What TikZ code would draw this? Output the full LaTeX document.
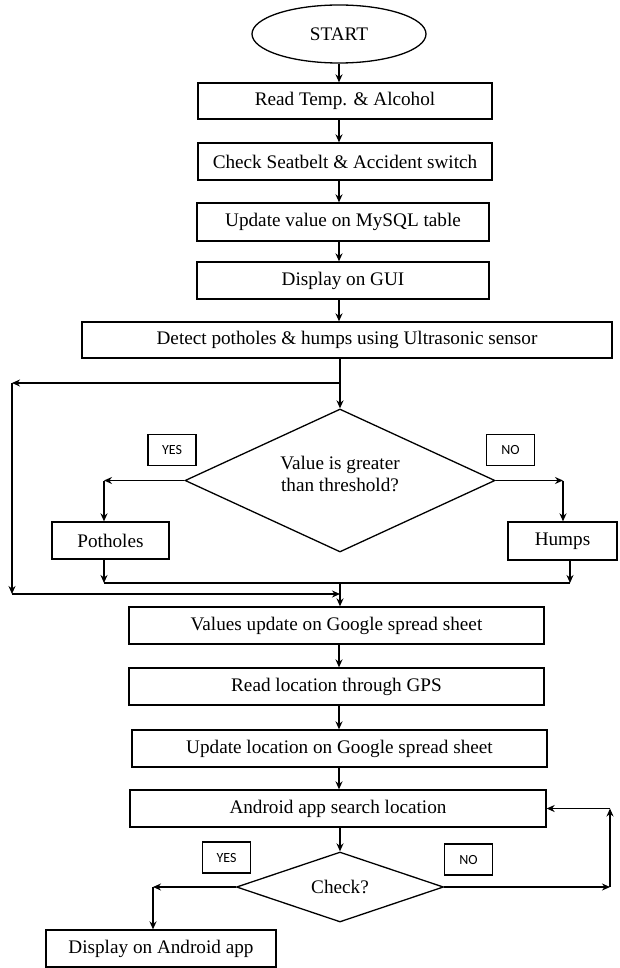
\documentclass[tikz,border=0pt]{standalone}
\usepackage{fontspec}
\setmainfont{Liberation Serif}
\newfontfamily\tagfont{Carlito}
\usetikzlibrary{shapes.geometric,arrows.meta}

\tikzset{
  txt/.style={font=\fontsize{19.2}{23}\selectfont},
  stepbox/.style={draw, line width=1.3pt, inner sep=0pt, txt},
  decision/.style={draw, line width=1.3pt, diamond, inner sep=0pt, txt, align=center},
  tagbox/.style={draw, line width=1.2pt, inner sep=0pt, minimum width=48pt, minimum height=31pt,
                 font=\tagfont\fontsize{14}{16}\selectfont},
  arr/.style={line width=1.3pt, -{Stealth[length=8pt,width=7pt]}},
  ln/.style={line width=1.3pt},
}

\begin{document}
\begin{tikzpicture}[x=1pt, y=-1pt]
  \fill[white] (0,0) rectangle (619,968);
  \useasboundingbox (0,0) rectangle (619,968);

  % main column
  \node[draw, line width=1.3pt, ellipse, minimum width=174pt, minimum height=58pt, inner sep=0pt, txt]
       (start) at (339,34) {START};
  \node[stepbox, minimum width=294pt, minimum height=36pt] (b1) at (345,101) {Read Temp. \& Alcohol};
  \node[stepbox, minimum width=294pt, minimum height=37pt] (b2) at (345,161.5) {Check Seatbelt \& Accident switch};
  \node[stepbox, minimum width=292pt, minimum height=38pt] (b3) at (343,222) {Update value on MySQL table};
  \node[stepbox, minimum width=292pt, minimum height=37pt] (b4) at (343,280.5) {Display on GUI};
  \node[stepbox, minimum width=530pt, minimum height=36pt] (b5) at (347,340) {Detect potholes \& humps using Ultrasonic sensor};

  % threshold decision
  \node[decision, minimum width=310pt, minimum height=143pt, shape aspect=2.17] (d1) at (340,480.5) {};
  \node[txt, align=center, inner sep=0pt] (d1t) at (340,473.5) {Value is greater\\[-1pt]than threshold?};
  \node[tagbox] (yes1) at (172,450) {YES};
  \node[tagbox] (no1) at (510.5,450) {NO};
  \node[stepbox, minimum width=117pt, minimum height=37pt] (pot) at (110.5,540.5) {Potholes};
  \node[stepbox, minimum width=109pt, minimum height=38pt] (hump) at (562.5,541) {Humps};

  % lower column
  \node[stepbox, minimum width=415pt, minimum height=37pt] (b6) at (336.5,625.5) {Values update on Google spread sheet};
  \node[stepbox, minimum width=415pt, minimum height=37pt] (b7) at (336.5,686.5) {Read location through GPS};
  \node[stepbox, minimum width=415pt, minimum height=37pt] (b8) at (339.5,748.5) {Update location on Google spread sheet};
  \node[stepbox, minimum width=416pt, minimum height=37pt] (b9) at (338,808.5) {Android app search location};

  % location check
  \node[decision, minimum width=207pt, minimum height=70pt, shape aspect=2.96] (d2) at (340,887) {Check?};
  \node[tagbox] (yes2) at (226.5,857.5) {YES};
  \node[tagbox] (no2) at (468.5,859.5) {NO};
  \node[stepbox, minimum width=230pt, minimum height=37pt] (disp) at (161,948.5) {Display on Android app};

  % routing points
  \coordinate (cx) at (339,0);
  \coordinate (lp) at (340,383);
  \coordinate (ol) at (12,383);
  \coordinate (obl) at (12,594);
  \coordinate (ob) at (340,594);
  \coordinate (pl) at (104,480.5);
  \coordinate (hr) at (563,480.5);
  \coordinate (jl) at (104,583);
  \coordinate (jr) at (570,583);
  \coordinate (jc) at (340,583);
  \coordinate (dl) at (153,887);
  \coordinate (dr) at (610,887);

  % main column connectors
  \draw[arr] (start.south) -- (start.south |- b1.north);
  \draw[arr] (b1.south -| cx) -- (b2.north -| cx);
  \draw[arr] (b2.south -| cx) -- (b3.north -| cx);
  \draw[arr] (b3.south -| cx) -- (b4.north -| cx);
  \draw[arr] (b4.south -| cx) -- (b5.north -| cx);
  \draw[arr] (b5.south -| d1.north) -- (d1.north);

  % bypass around the decision
  \draw[arr] (lp) -- (ol);
  \draw[arr] (ol) -- (obl);
  \draw[arr] (obl) -- (ob);

  % decision branches
  \draw[arr] (d1.west) -- (pl);
  \draw[arr] (pl) -- (pl |- pot.north);
  \draw[arr] (d1.east) -- (hr);
  \draw[arr] (hr) -- (hr |- hump.north);
  \draw[arr] (jl |- pot.south) -- (jl);
  \draw[arr] (jr |- hump.south) -- (jr);
  \draw[ln] (jl) -- (jr);
  \draw[arr] (jc) -- (jc |- b6.north);

  % lower column connectors
  \draw[arr] (b6.south -| cx) -- (b7.north -| cx);
  \draw[arr] (b7.south -| cx) -- (b8.north -| cx);
  \draw[arr] (b8.south -| cx) -- (b9.north -| cx);
  \draw[arr] (b9.south -| d2.north) -- (d2.north);

  % check branches
  \draw[arr] (d2.west) -- (dl);
  \draw[arr] (dl) -- (dl |- disp.north);
  \draw[arr] (d2.east) -- (dr);
  \draw[arr] (dr) -- (dr |- b9.east);
  \draw[arr] (dr |- b9.east) -- (b9.east);
\end{tikzpicture}
\end{document}
